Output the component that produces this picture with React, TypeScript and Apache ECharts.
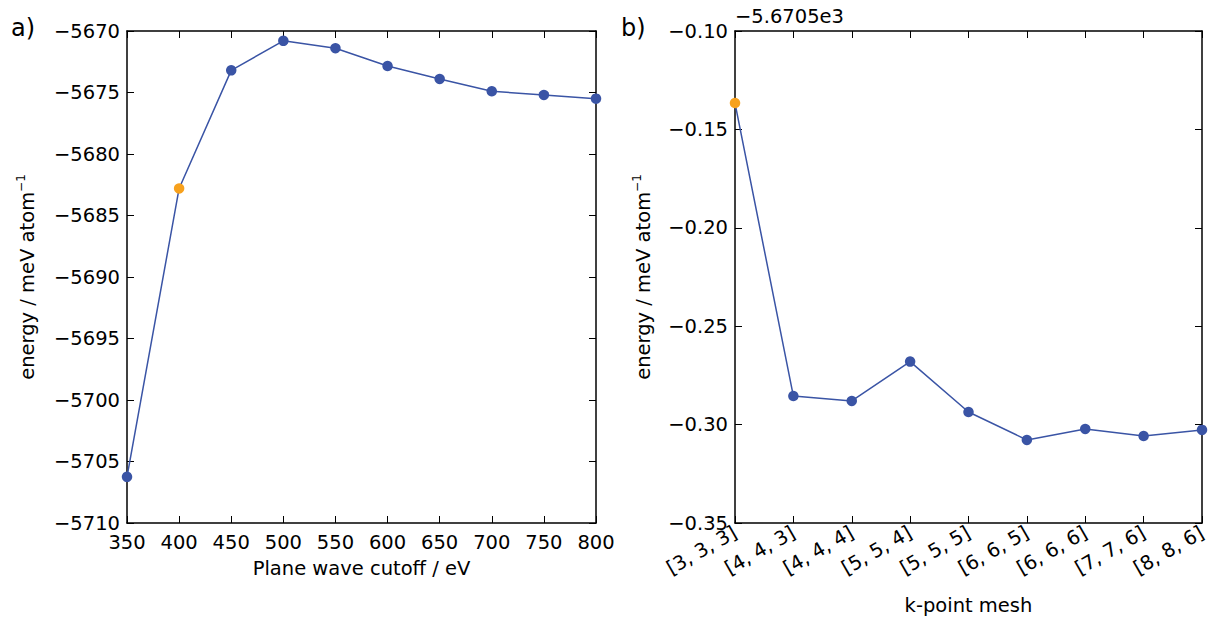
import React, { useEffect, useRef } from "react";
import * as echarts from "echarts";

const cutoffs = [350, 400, 450, 500, 550, 600, 650, 700, 750, 800];
const cutoffEnergies = [-5706.25, -5682.8, -5673.2, -5670.8, -5671.4, -5672.85, -5673.9, -5674.9, -5675.2, -5675.5];
const cutoffHighlight = 1;

const kMeshes = ["[3, 3, 3]", "[4, 4, 3]", "[4, 4, 4]", "[5, 5, 4]", "[5, 5, 5]", "[6, 6, 5]", "[6, 6, 6]", "[7, 7, 6]", "[8, 8, 6]"];
const kEnergies = [-0.1366, -0.2855, -0.288, -0.268, -0.2936, -0.3078, -0.3022, -0.3058, -0.3027];
const kHighlight = 0;

const BLUE = "#3a54a5";
const ORANGE = "#f7a11d";
const FONT = "DejaVu Sans";
const FS = 19.5;

const minus = (s: string) => s.replace(/-/g, "\u2212");

export default function App() {
  const ref = useRef<HTMLDivElement>(null);
  useEffect(() => {
    if (!ref.current) return;
    const chart = echarts.init(ref.current, undefined, { renderer: "svg" });
    const axisLine = { show: true, onZero: false, lineStyle: { color: "#000", width: 1.5 } };
    const tick = { show: true, inside: true, length: 7, lineStyle: { color: "#000", width: 1 } };
    const label = { color: "#000", fontFamily: FONT, fontSize: FS };
    const nameStyle = { color: "#000", fontFamily: FONT, fontSize: FS };
    const yName = "energy / meV atom{sup|\u22121}";
    const yRich = {
      sup: { fontSize: 12, fontFamily: FONT, color: "#000", verticalAlign: "top", lineHeight: 24 },
    };
    const dataA = cutoffs.map((x, i) => ({
      value: [x, cutoffEnergies[i]],
      itemStyle: { color: i === cutoffHighlight ? ORANGE : BLUE },
    }));
    const dataB = kEnergies.map((v, i) => ({
      value: v,
      itemStyle: { color: i === kHighlight ? ORANGE : BLUE },
    }));
    chart.setOption({
      animation: false,
      backgroundColor: "#fff",
      grid: [
        { left: 127, right: 613, top: 31, bottom: 95, containLabel: false, outerBoundsMode: "none" },
        { left: 735, right: 7, top: 31, bottom: 95, containLabel: false, outerBoundsMode: "none" },
      ],
      xAxis: [
        {
          type: "value", gridIndex: 0, min: 350, max: 800, interval: 50, position: "bottom",
          axisLine, axisTick: tick, splitLine: { show: false },
          axisLabel: { ...label, margin: 9 },
          name: "Plane wave cutoff / eV", nameLocation: "middle", nameGap: 35, nameTextStyle: nameStyle,
        },
        {
          type: "value", gridIndex: 0, min: 350, max: 800, interval: 50, position: "top",
          axisLine, axisTick: tick, splitLine: { show: false }, axisLabel: { show: false },
        },
        {
          type: "category", gridIndex: 1, data: kMeshes, boundaryGap: false, position: "bottom",
          axisLine, axisTick: { ...tick, alignWithLabel: true }, splitLine: { show: false },
          axisLabel: { ...label, rotate: 30, margin: 8, interval: 0 },
          name: "k-point mesh", nameLocation: "middle", nameGap: 72, nameTextStyle: nameStyle,
        },
        {
          type: "category", gridIndex: 1, data: kMeshes, boundaryGap: false, position: "top",
          axisLine, axisTick: { ...tick, alignWithLabel: true }, splitLine: { show: false }, axisLabel: { show: false },
        },
      ],
      yAxis: [
        {
          type: "value", gridIndex: 0, min: -5710, max: -5670, interval: 5, position: "left",
          axisLine, axisTick: tick, splitLine: { show: false },
          axisLabel: { ...label, margin: 7, formatter: (v: number) => minus(String(v)) },
          name: yName, nameLocation: "middle", nameGap: 88, nameRotate: 90,
          nameTextStyle: { ...nameStyle, rich: yRich },
        },
        {
          type: "value", gridIndex: 0, min: -5710, max: -5670, interval: 5, position: "right",
          axisLine, axisTick: tick, splitLine: { show: false }, axisLabel: { show: false },
        },
        {
          type: "value", gridIndex: 1, min: -0.35, max: -0.1, interval: 0.05, position: "left",
          axisLine, axisTick: tick, splitLine: { show: false },
          axisLabel: { ...label, margin: 7, formatter: (v: number) => minus(v.toFixed(2)) },
          name: yName, nameLocation: "middle", nameGap: 80, nameRotate: 90,
          nameTextStyle: { ...nameStyle, rich: yRich },
        },
        {
          type: "value", gridIndex: 1, min: -0.35, max: -0.1, interval: 0.05, position: "right",
          axisLine, axisTick: tick, splitLine: { show: false }, axisLabel: { show: false },
        },
      ],
      graphic: [
        { type: "text", left: 11, top: 16, style: { text: "a)", font: `24px '${FONT}'`, fill: "#000" } },
        { type: "text", left: 621, top: 16, style: { text: "b)", font: `24px '${FONT}'`, fill: "#000" } },
        { type: "text", left: 735, top: 6, style: { text: "\u22125.6705e3", font: `${FS}px '${FONT}'`, fill: "#000" } },
      ],
      series: [
        {
          type: "line", xAxisIndex: 0, yAxisIndex: 0, data: dataA,
          symbol: "circle", symbolSize: 10.5, lineStyle: { color: BLUE, width: 1.5 },
          itemStyle: { color: BLUE }, clip: true,
        },
        {
          type: "line", xAxisIndex: 2, yAxisIndex: 2, data: dataB,
          symbol: "circle", symbolSize: 10.5, lineStyle: { color: BLUE, width: 1.5 },
          itemStyle: { color: BLUE }, clip: true,
        },
      ],
    });
    return () => chart.dispose();
  }, []);
  return <div ref={ref} style={{ width: 1209, height: 618, position: "absolute", left: 0, top: 0 }} />;
}
